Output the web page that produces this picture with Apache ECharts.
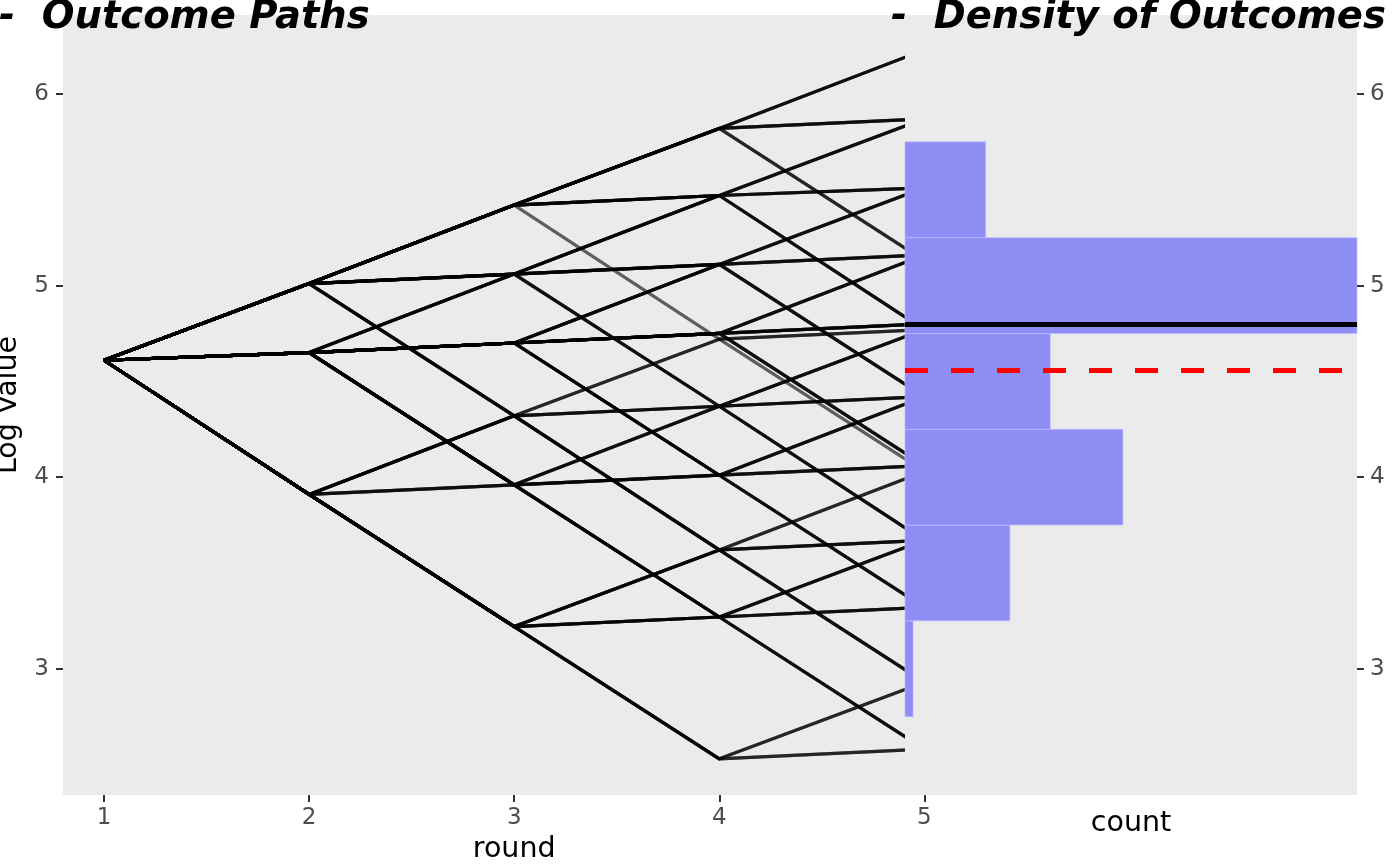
<!DOCTYPE html>
<html><head><meta charset="utf-8">
<script src="https://cdn.jsdelivr.net/npm/echarts@6/dist/echarts.min.js"></script>
<style>html,body{margin:0;padding:0;background:#fff}#c{width:1400px;height:865px}</style>
</head><body><div id="c"></div>
<script>
// ---- data ----
const rounds = [1, 2, 3, 4, 5];
// log value of each sampled path at rounds 1..5
const paths = [
  [4.61, 5.01, 5.42, 5.82, 6.23],
  [4.61, 5.01, 5.42, 5.82, 5.87],
  [4.61, 5.01, 5.42, 5.82, 5.13],
  [4.61, 5.01, 5.42, 5.47, 5.87],
  [4.61, 5.01, 5.06, 5.47, 5.87],
  [4.61, 5.01, 5.42, 5.47, 5.51],
  [4.61, 4.65, 5.06, 5.47, 5.51],
  [4.61, 5.01, 5.42, 5.47, 4.77],
  [4.61, 5.01, 5.06, 5.47, 4.77],
  [4.61, 5.01, 5.06, 5.11, 5.51],
  [4.61, 4.65, 4.70, 5.11, 5.51],
  [4.61, 4.65, 5.06, 5.11, 5.16],
  [4.61, 4.65, 4.70, 5.11, 5.16],
  [4.61, 5.01, 5.06, 5.11, 4.42],
  [4.61, 4.65, 4.70, 5.11, 4.42],
  [4.61, 4.65, 4.70, 4.75, 5.16],
  [4.61, 4.65, 4.70, 4.75, 4.80],
  [4.61, 4.65, 4.70, 4.75, 4.06],
  [4.61, 5.01, 5.42, 4.72, 4.03],
  [4.61, 5.01, 4.32, 4.72, 4.77],
  [4.61, 3.91, 4.32, 4.72, 4.77],
  [4.61, 5.01, 5.06, 4.37, 4.77],
  [4.61, 3.91, 4.32, 4.37, 4.77],
  [4.61, 4.65, 3.96, 4.37, 4.77],
  [4.61, 5.01, 5.06, 4.37, 4.42],
  [4.61, 5.01, 4.32, 4.37, 4.42],
  [4.61, 4.65, 3.96, 4.37, 4.42],
  [4.61, 5.01, 5.06, 4.37, 3.67],
  [4.61, 3.91, 4.32, 4.37, 3.67],
  [4.61, 4.65, 3.96, 4.37, 3.67],
  [4.61, 4.65, 4.70, 4.01, 4.42],
  [4.61, 4.65, 3.96, 4.01, 4.42],
  [4.61, 4.65, 4.70, 4.01, 4.06],
  [4.61, 4.65, 3.96, 4.01, 4.06],
  [4.61, 3.91, 3.96, 4.01, 4.06],
  [4.61, 4.65, 4.70, 4.01, 3.32],
  [4.61, 4.65, 3.96, 4.01, 3.32],
  [4.61, 5.01, 4.32, 3.62, 4.03],
  [4.61, 3.91, 3.22, 3.62, 4.03],
  [4.61, 5.01, 4.32, 3.62, 3.67],
  [4.61, 3.91, 4.32, 3.62, 3.67],
  [4.61, 3.91, 3.22, 3.62, 3.67],
  [4.61, 3.91, 4.32, 3.62, 2.93],
  [4.61, 3.91, 3.22, 3.62, 2.93],
  [4.61, 4.65, 3.96, 3.27, 3.67],
  [4.61, 3.91, 3.96, 3.27, 3.67],
  [4.61, 3.91, 3.22, 3.27, 3.67],
  [4.61, 4.65, 3.96, 3.27, 3.32],
  [4.61, 3.91, 3.22, 3.27, 3.32],
  [4.61, 4.65, 3.96, 3.27, 2.58],
  [4.61, 3.91, 3.96, 3.27, 2.58],
  [4.61, 3.91, 3.22, 3.27, 2.58],
  [4.61, 3.91, 3.22, 2.53, 2.93],
  [4.61, 3.91, 3.22, 2.53, 2.58]
];
// how many times each path occurs (overlaps make the lines darker)
const pathCounts = [3,3,2,2,1,1,2,2,1,2,1,2,1,1,2,3,4,3,1,1,1,1,1,1,1,1,1,1,1,1,2,1,1,1,1,2,1,1,1,1,1,1,1,2,1,1,1,1,2,1,1,1,2,2];

// histogram of outcomes
const binEdges = [2.75, 3.25, 3.75, 4.25, 4.75, 5.25, 5.75];
const binCounts = [1, 13, 27, 18, 56, 10];
const solidLineValue = 4.80;
const dashedLineValue = 4.56;

const xTickValues = [1, 2, 3, 4, 5];
const yTickValues = [3, 4, 5, 6];
const xRange = [0.8, 5.2];
const yRange = [2.341, 6.412];
const countRange = [0, 56];

// ---- chart ----
const chart = echarts.init(document.getElementById('c'), null, {renderer: 'canvas'});
const FONT = '"DejaVu Sans", sans-serif';
const panelBg = '#EBEBEB';
const tickStyle = {color: '#333333', width: 2};
const labelStyle = {color: '#4D4D4D', fontSize: 23, fontFamily: FONT};

const series = [];
paths.forEach((p, i) => {
  for (let k = 0; k < pathCounts[i]; k++) {
    series.push({
      type: 'line', xAxisIndex: 0, yAxisIndex: 0,
      data: rounds.map((r, j) => [r, p[j]]),
      symbol: 'none', showSymbol: false, silent: true, animation: false, z: 2,
      lineStyle: {color: 'rgba(0,0,0,0.6)', width: 3.2, cap: 'butt', join: 'round'}
    });
  }
});

series.push({
  type: 'custom', xAxisIndex: 1, yAxisIndex: 1, z: 6, silent: true, animation: false,
  data: binCounts.map((c, i) => [c, binEdges[i], binEdges[i + 1]]),
  encode: {x: 0, y: [1, 2]},
  renderItem: function (params, api) {
    const a = api.coord([0, api.value(2)]);
    const b = api.coord([api.value(0), api.value(1)]);
    return {
      type: 'rect',
      shape: {x: a[0], y: a[1], width: b[0] - a[0], height: b[1] - a[1]},
      style: {fill: 'rgba(0,0,255,0.4)', stroke: 'rgba(190,190,255,0.8)', lineWidth: 1}
    };
  }
});

series.push({
  type: 'line', xAxisIndex: 1, yAxisIndex: 1, z: 9, data: [], silent: true, animation: false,
  markLine: {
    silent: true, symbol: ['none', 'none'], label: {show: false}, animation: false, z: 10,
    data: [
      {yAxis: solidLineValue, lineStyle: {color: '#000000', width: 5, type: 'solid'}},
      {yAxis: dashedLineValue, lineStyle: {color: '#FF0000', width: 5, type: [23, 23]}}
    ]
  }
});

const option = {
  animation: false,
  textStyle: {fontFamily: FONT},
  grid: [
    {left: 63, top: 15, width: 902.4, bottom: 70, show: true, backgroundColor: panelBg, borderWidth: 0, z: 0,
     containLabel: false, outerBoundsMode: 'none'},
    {left: 905, top: 15, right: 43, bottom: 70, show: true, backgroundColor: panelBg, borderWidth: 0, z: 4,
     containLabel: false, outerBoundsMode: 'none'}
  ],
  xAxis: [
    {
      gridIndex: 0, type: 'value', min: xRange[0], max: xRange[1],
      axisLine: {show: false, onZero: false}, splitLine: {show: false},
      axisTick: {show: true, length: 7, lineStyle: tickStyle, customValues: xTickValues},
      axisLabel: Object.assign({margin: 12, customValues: xTickValues}, labelStyle),
      name: 'round', nameLocation: 'middle', nameGap: 40,
      nameTextStyle: {color: '#000', fontSize: 28.5, fontFamily: FONT}
    },
    {
      gridIndex: 1, type: 'value', min: countRange[0], max: countRange[1],
      axisLine: {show: false, onZero: false}, splitLine: {show: false}, axisTick: {show: false}, axisLabel: {show: false},
      name: 'count', nameLocation: 'middle', nameGap: 14,
      nameTextStyle: {color: '#000', fontSize: 28.5, fontFamily: FONT}
    }
  ],
  yAxis: [
    {
      gridIndex: 0, type: 'value', min: yRange[0], max: yRange[1], position: 'left',
      axisLine: {show: false, onZero: false}, splitLine: {show: false},
      axisTick: {show: true, length: 7, lineStyle: tickStyle, customValues: yTickValues},
      axisLabel: Object.assign({margin: 14, customValues: yTickValues}, labelStyle),
      name: 'Log Value', nameLocation: 'middle', nameGap: 31, nameRotate: 90,
      nameTextStyle: {color: '#000', fontSize: 28.5, fontFamily: FONT}
    },
    {
      gridIndex: 1, type: 'value', min: yRange[0], max: yRange[1], position: 'right', z: 12,
      axisLine: {show: false, onZero: false}, splitLine: {show: false},
      axisTick: {show: true, inside: false, length: 7, lineStyle: tickStyle, customValues: yTickValues},
      axisLabel: Object.assign({margin: 13, customValues: yTickValues}, labelStyle)
    }
  ],
  graphic: [
    {type: 'text', left: -1, top: -2, z: 20,
     style: {text: '-  Outcome Paths', font: 'italic bold 38.5px "DejaVu Sans"', fill: '#000'}},
    {type: 'text', left: 891, top: -2, z: 20,
     style: {text: '-  Density of Outcomes', font: 'italic bold 38.5px "DejaVu Sans"', fill: '#000'}}
  ],
  series: series
};
chart.setOption(option);
</script>
</body></html>
